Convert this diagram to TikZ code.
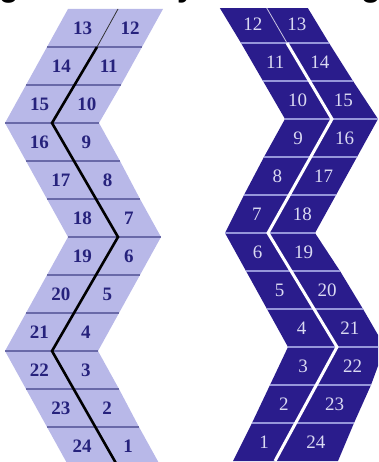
\documentclass[tikz,border=0pt]{standalone}
\usepackage{fontspec}
\setmainfont{Liberation Serif}
\newfontfamily\titlefont{Liberation Sans}
\usetikzlibrary{calc}
\definecolor{lilac}{RGB}{184,184,232}
\definecolor{lilacline}{RGB}{105,105,168}
\definecolor{navy}{RGB}{38,34,124}
\definecolor{indigo}{RGB}{42,28,140}
\definecolor{indigoline}{RGB}{150,150,218}
\definecolor{pale}{RGB}{218,218,242}
\begin{document}
\begin{tikzpicture}[x=1pt,y=-1pt,
    rowline/.style={line width=1.1pt},
    numl/.style={text=navy,font=\fontsize{19}{19}\selectfont\bfseries,inner sep=0pt},
    numr/.style={text=pale,font=\fontsize{19}{19}\selectfont,inner sep=0pt},
    frag/.style={font=\titlefont\fontsize{32}{32}\selectfont\bfseries,anchor=base,inner sep=0pt}]
\useasboundingbox (0,0) rectangle (378,462);
% cut-off title
\node[frag] (t1) at (9,-3.5) {g};
\node[frag] (t2) at (186,-3.5) {y};
\node[frag] (t3) at (371,-3.5) {g};
% left strip
\foreach \i/\l/\d/\r in {0/68/118/163,1/47/97/142,2/26/75/121,3/5/52/99,4/26/74/120,
    5/47/96/140,6/68/118/161,7/47/96/140,8/26/74/119,9/5/52/98,10/26/74/119,11/47/96/139,12/68/117/160}{
  \coordinate (A\i) at (\l,9+38*\i);
  \coordinate (B\i) at (\d,9+38*\i);
  \coordinate (C\i) at (\r,9+38*\i);
}
\fill[lilac] (A0)--(A1)--(A2)--(A3)--(A4)--(A5)--(A6)--(A7)--(A8)--(A9)--(A10)--(A11)--(A12)
  --(C12)--(C11)--(C10)--(C9)--(C8)--(C7)--(C6)--(C5)--(C4)--(C3)--(C2)--(C1)--(C0)--cycle;
\foreach \i in {1,...,11} \draw[rowline,lilacline] (A\i)--(C\i);
\draw[line width=0.8pt,black!80] (B0)--(B1);
\draw[line width=2.6pt,black] (B1)--(B3)--(B6)--(B9)--(B12);
\foreach \r/\a/\b [evaluate=\r as \p using int(\r-1)] in {1/13/12,2/14/11,3/15/10,4/16/9,5/17/8,6/18/7,
    7/19/6,8/20/5,9/21/4,10/22/3,11/23/2,12/24/1}{
  \node[numl] (l\a) at ($.25*(A\p)+.25*(A\r)+.25*(B\p)+.25*(B\r)$) {\a};
  \node[numl] (l\b) at ($.25*(B\p)+.25*(B\r)+.25*(C\p)+.25*(C\r)$) {\b};
}
% right strip
\begin{scope}
\clip (0,9) rectangle (378,462);
\foreach \i/\l/\d/\r in {0/218/265/306,1/241/287/329,2/263/310/353,3/285/332/378,4/264/311/357,
    5/244/290/336,6/225/268/315,7/246/291/340,8/267/314/363,9/288/337/385,10/270/317/371,11/252/296/354,12/233/275/338}{
  \coordinate (D\i) at (\l,5+38*\i);
  \coordinate (E\i) at (\d,5+38*\i);
  \coordinate (F\i) at (\r,5+38*\i);
}
\fill[indigo] (D0)--(D1)--(D2)--(D3)--(D4)--(D5)--(D6)--(D7)--(D8)--(D9)--(D10)--(D11)--(D12)
  --(F12)--(F11)--(F10)--(F9)--(F8)--(F7)--(F6)--(F5)--(F4)--(F3)--(F2)--(F1)--(F0)--cycle;
\foreach \i in {1,...,11} \draw[rowline,indigoline] (D\i)--(F\i);
\draw[line width=0.8pt,white!75!indigo] (E0)--(E1);
\draw[line width=3pt,white] (E1)--(E3)--(E6)--(E9)--(E12);
\foreach \r/\a/\b [evaluate=\r as \p using int(\r-1)] in {1/12/13,2/11/14,3/10/15,4/9/16,5/8/17,6/7/18,
    7/6/19,8/5/20,9/4/21,10/3/22,11/2/23,12/1/24}{
  \node[numr] (r\a) at ($.25*(D\p)+.25*(D\r)+.25*(E\p)+.25*(E\r)$) {\a};
  \node[numr] (r\b) at ($.25*(E\p)+.25*(E\r)+.25*(F\p)+.25*(F\r)$) {\b};
}
\end{scope}
\end{tikzpicture}
\end{document}
